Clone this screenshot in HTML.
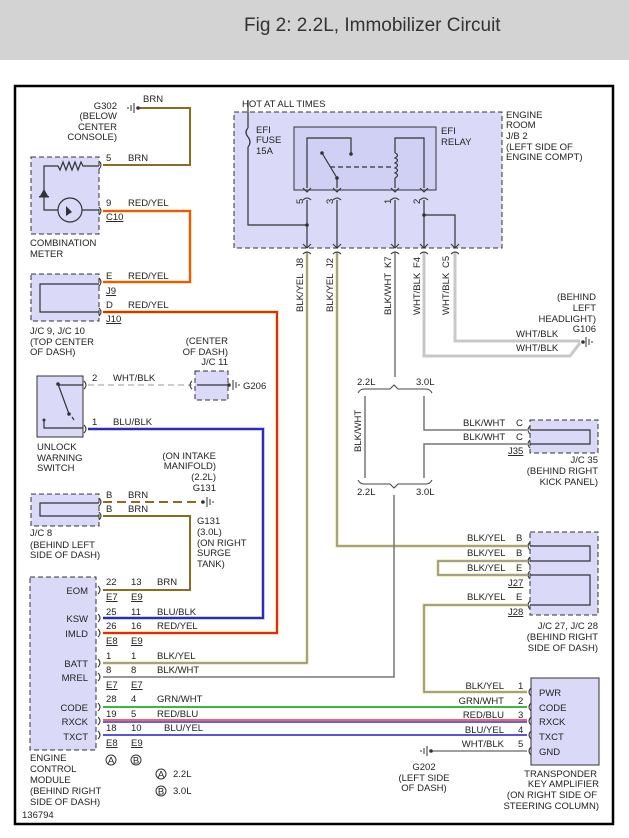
<!DOCTYPE html>
<html><head><meta charset="utf-8"><style>
html,body{margin:0;padding:0;background:#fff}
svg{display:block}
text{font-family:"Liberation Sans",sans-serif;font-size:9.5px;fill:#222}
.t{font-size:19px;fill:#333}
</style></head><body>
<svg width="629" height="838" viewBox="0 0 629 838" xmlns="http://www.w3.org/2000/svg">
<rect x="0" y="0" width="629" height="60" fill="#d3d3d3"/>
<text class="t" x="244" y="31">Fig 2: 2.2L, Immobilizer Circuit</text>
<rect x="15" y="86" width="598" height="738" fill="#fff" stroke="#000" stroke-width="2.5"/>

<!-- boxes -->
<g fill="#dadaf8" stroke="#333" stroke-dasharray="5,3">
<rect x="31" y="157" width="68" height="77"/>
<rect x="31" y="274" width="68" height="47"/>
<rect x="195" y="371" width="33" height="29"/>
<rect x="31" y="494" width="68" height="32"/>
<rect x="30" y="577" width="66" height="173"/>
<rect x="234" y="112" width="268" height="136"/>
<rect x="530" y="420" width="68" height="33"/>
<rect x="530" y="532" width="68" height="83"/>
</g>
<g fill="#dadaf8" stroke="#333">
<rect x="37" y="376" width="46" height="61"/>
<rect x="531" y="678" width="68" height="87"/>
<rect x="294" y="127" width="142" height="63" fill="#d0d0f4"/>
</g>

<!-- wires -->
<g fill="none" stroke-width="2">
<!-- BRN G302 -->
<path d="M138 108H190V165H103" stroke="#8c6d1f"/>
<!-- RED/YEL -->
<path d="M103 211H190V282H103" stroke="#f5e66a" stroke-width="3.5"/>
<path d="M103 211H190V282H103" stroke="#f05030"/>
<path d="M103 312H277V633H103" stroke="#f5e66a" stroke-width="3.5"/>
<path d="M103 312H277V633H103" stroke="#f02020"/>
<!-- WHT/BLK dashed -->
<path d="M88 385H192" stroke="#ccc" stroke-dasharray="6,4"/>
<!-- BLU/BLK -->
<path d="M88 429H263V618H103" stroke="#bbb" stroke-width="3.5"/>
<path d="M88 429H263V618H103" stroke="#2a2acc"/>
<!-- BRN J/C 8 -->
<path d="M103 502H202" stroke="#8c6d1f" stroke-dasharray="9,5"/>
<path d="M103 516H190V590H103" stroke="#8c6d1f"/>
<!-- BLK/YEL J8 -->
<path d="M307 252V663H103" stroke="#f0eaa0" stroke-width="3.5"/>
<path d="M307 252V663H103" stroke="#888" stroke-width="1.5"/>
<!-- BLK/YEL J2 -->
<path d="M337 252V546H527" stroke="#f0eaa0" stroke-width="3.5"/>
<path d="M337 252V546H527" stroke="#888" stroke-width="1.5"/>
<path d="M527 561H438V575H527" stroke="#f0eaa0" stroke-width="3.5"/>
<path d="M527 561H438V575H527" stroke="#888" stroke-width="1.5"/>
<path d="M527 605H424V692H527" stroke="#f0eaa0" stroke-width="3.5"/>
<path d="M527 605H424V692H527" stroke="#888" stroke-width="1.5"/>
<!-- BLK/WHT -->
<path d="M395 252V377M394 495V677H103" stroke="#777" stroke-width="1.5"/>
<path d="M365 396V478M424 396V430H527M527 444H424V478" stroke="#777" stroke-width="1.5"/>
<!-- WHT/BLK G106 -->
<path d="M424 252V356H570L580 343M455 252V341H580" stroke="#c8c8c8" stroke-width="3"/>
<!-- CODE/RXCK/TXCT -->
<path d="M103 707H527" stroke="#3cb83c"/>
<path d="M103 720H527" stroke="#f03030" stroke-width="1.5"/>
<path d="M103 722H527" stroke="#3030d0" stroke-width="1.5"/>
<path d="M103 735H527" stroke="#5555dd"/>
<path d="M431 751H527" stroke="#666" stroke-width="1.2"/>
</g>

<!-- braces -->
<g fill="none" stroke="#444" stroke-width="1">
<path d="M358 393Q360 389 364 389H390L394 385L398 389H426Q430 389 432 393"/>
<path d="M358 480Q360 484 364 484H390L394 488L398 484H426Q430 484 432 480"/>
</g>

<!-- JB internals -->
<g fill="none" stroke="#333" stroke-width="1.2">
<path d="M248 100V128M248 147V225H307"/>
<path d="M248 128Q244 132 248 137Q252 142 248 147"/>
<path d="M307 188V138H351V154"/>
<path d="M322 153L337 178V188"/>
<path d="M330 167H393" stroke-dasharray="5,3"/>
<path d="M395 188V178M395 153V138H424V188"/>
<path d="M395 153q5 2 0 5q5 2 0 5q5 2 0 5q5 2 0 5q5 2 0 5"/>
<path d="M307 200V248M337 200V248M395 200V248M424 200V248M424 215H455V248"/>
<!-- comb meter internals -->
<path d="M99 166H83l-2-4-3 8-3-8-3 8-3-8-3 8-3-8-3 8-2-4H44V210H58M82 210H99"/>
<circle cx="70" cy="210" r="12"/>
<!-- JC9 inner -->
<path d="M99 284H40V312H99"/>
<path d="M99 503H40V516H99"/>
<!-- switch internals -->
<path d="M83 385H58M58 384L69 414M74 420L72 417M44 420V428H83"/>
<path d="M229 385H197"/>
<path d="M530 430H590V444H530M530 546H590V561H530M530 575H590V605H530"/>
</g>
<g fill="#333">
<polygon points="44,189 40,196 48,196"/><rect x="39" y="196" width="10" height="1.5"/>
<circle cx="351" cy="154" r="1.8"/><circle cx="322" cy="153" r="1.8"/><circle cx="337" cy="178" r="1.8"/>
<circle cx="307" cy="225" r="1.8"/><circle cx="424" cy="215" r="1.8"/>
<circle cx="58" cy="384" r="1.8"/><circle cx="69" cy="414" r="1.8"/><circle cx="44" cy="420" r="1.5"/>
<circle cx="229" cy="385" r="1.8"/><circle cx="203" cy="502" r="1.8"/><circle cx="583" cy="342" r="1.8"/>
<circle cx="138" cy="108" r="1.8"/><circle cx="431" cy="751" r="1.8"/>
<polygon points="66,206 72,212 66,216"/>
</g>
<!-- ground symbols -->
<g stroke="#333" fill="none" stroke-width="1">
<path d="M134 103v10M131 105v6M128 107v2"/>
<path d="M233 380v10M236 382v6M239 384v2"/>
<path d="M207 497v10M210 499v6M213 501v2"/>
<path d="M586 337v10M589 339v6M592 341v2"/>
<path d="M427 746v10M424 748v6M421 750v2"/>
</g>
<!-- connector arcs -->
<g fill="none" stroke="#333" stroke-width="1">
<path d="M99 161q4 4 0 8M99 207q4 4 0 8M99 278q4 4 0 8M99 308q4 4 0 8M84 381q4 4 0 8M84 425q4 4 0 8M192 381q-4 4 0 8M99 498q4 4 0 8M99 512q4 4 0 8"/>
<path d="M98 586q4 4 0 8M98 614q4 4 0 8M98 629q4 4 0 8M98 659q4 4 0 8M98 673q4 4 0 8M98 703q4 4 0 8M98 717q4 4 0 8M98 731q4 4 0 8"/>
<path d="M530 426q-4 4 0 8M530 440q-4 4 0 8M530 542q-4 4 0 8M530 557q-4 4 0 8M530 571q-4 4 0 8M530 601q-4 4 0 8"/>
<path d="M531 688q-4 4 0 8M531 703q-4 4 0 8M531 717q-4 4 0 8M531 731q-4 4 0 8M531 747q-4 4 0 8"/>
<path d="M303 188l4 4 4-4M333 188l4 4 4-4M391 188l4 4 4-4M420 188l4 4 4-4M303 200q4-4 8 0M333 200q4-4 8 0M391 200q4-4 8 0M420 200q4-4 8 0"/>
<path d="M303 244l4 4 4-4M333 244l4 4 4-4M391 244l4 4 4-4M420 244l4 4 4-4M451 244l4 4 4-4M303 254q4-4 8 0M333 254q4-4 8 0M391 254q4-4 8 0M420 254q4-4 8 0M451 254q4-4 8 0"/>
</g>

<!-- text -->
<g>
<text x="143" y="102">BRN</text>
<text x="117" y="109" text-anchor="end">G302</text>
<text x="117" y="119" text-anchor="end">(BELOW</text>
<text x="117" y="130" text-anchor="end">CENTER</text>
<text x="117" y="140" text-anchor="end">CONSOLE)</text>
<text x="106" y="161">5</text><text x="128" y="161">BRN</text>
<text x="106" y="206">9</text><text x="128" y="206">RED/YEL</text>
<text x="106" y="220" text-decoration="underline">C10</text>
<text x="30" y="246">COMBINATION</text><text x="30" y="257">METER</text>
<text x="106" y="279">E</text><text x="128" y="279">RED/YEL</text>
<text x="106" y="294" text-decoration="underline">J9</text>
<text x="106" y="308">D</text><text x="128" y="308">RED/YEL</text>
<text x="106" y="322" text-decoration="underline">J10</text>
<text x="30" y="334">J/C 9, J/C 10</text><text x="30" y="345">(TOP CENTER</text><text x="30" y="355">OF DASH)</text>
<text x="228" y="344" text-anchor="end">(CENTER</text><text x="228" y="355" text-anchor="end">OF DASH)</text><text x="228" y="365" text-anchor="end">J/C 11</text>
<text x="92" y="381">2</text><text x="113" y="381">WHT/BLK</text>
<text x="243" y="389">G206</text>
<text x="92" y="425">1</text><text x="113" y="425">BLU/BLK</text>
<text x="37" y="450">UNLOCK</text><text x="37" y="461">WARNING</text><text x="37" y="471">SWITCH</text>
<text x="216" y="459" text-anchor="end">(ON INTAKE</text><text x="216" y="469" text-anchor="end">MANIFOLD)</text><text x="216" y="480" text-anchor="end">(2.2L)</text><text x="216" y="491" text-anchor="end">G131</text>
<text x="106" y="498">B</text><text x="128" y="498">BRN</text>
<text x="106" y="512">B</text><text x="128" y="512">BRN</text>
<text x="197" y="524">G131</text><text x="197" y="535">(3.0L)</text><text x="197" y="546">(ON RIGHT</text><text x="197" y="556">SURGE</text><text x="197" y="567">TANK)</text>
<text x="30" y="536">J/C 8</text><text x="30" y="548">(BEHIND LEFT</text><text x="30" y="558">SIDE OF DASH)</text>
<text x="88" y="594" text-anchor="end">EOM</text><text x="88" y="622" text-anchor="end">KSW</text><text x="88" y="637" text-anchor="end">IMLD</text>
<text x="88" y="667" text-anchor="end">BATT</text><text x="88" y="681" text-anchor="end">MREL</text>
<text x="88" y="711" text-anchor="end">CODE</text><text x="88" y="725" text-anchor="end">RXCK</text><text x="88" y="740" text-anchor="end">TXCT</text>
<text x="106" y="585">22</text><text x="131" y="585">13</text><text x="157" y="585">BRN</text>
<text x="106" y="600" text-decoration="underline">E7</text><text x="131" y="600" text-decoration="underline">E9</text>
<text x="106" y="615">25</text><text x="131" y="615">11</text><text x="157" y="615">BLU/BLK</text>
<text x="106" y="629">26</text><text x="131" y="629">16</text><text x="157" y="629">RED/YEL</text>
<text x="106" y="644" text-decoration="underline">E8</text><text x="131" y="644" text-decoration="underline">E9</text>
<text x="106" y="659">1</text><text x="131" y="659">1</text><text x="157" y="659">BLK/YEL</text>
<text x="106" y="673">8</text><text x="131" y="673">8</text><text x="157" y="673">BLK/WHT</text>
<text x="106" y="688" text-decoration="underline">E7</text><text x="131" y="688" text-decoration="underline">E7</text>
<text x="106" y="702">28</text><text x="131" y="702">4</text><text x="157" y="702">GRN/WHT</text>
<text x="106" y="717">19</text><text x="131" y="717">5</text><text x="157" y="717">RED/BLU</text>
<text x="106" y="731">18</text><text x="131" y="731">10</text><text x="164" y="731">BLU/YEL</text>
<text x="106" y="746" text-decoration="underline">E8</text><text x="131" y="746" text-decoration="underline">E9</text>
<circle cx="111" cy="760" r="5" fill="none" stroke="#333"/><text x="111" y="763.5" text-anchor="middle" font-size="8">A</text>
<circle cx="136" cy="760" r="5" fill="none" stroke="#333"/><text x="136" y="763.5" text-anchor="middle" font-size="8">B</text>
<circle cx="161" cy="774" r="5" fill="none" stroke="#333"/><text x="161" y="777.5" text-anchor="middle" font-size="8">A</text><text x="173" y="777">2.2L</text>
<circle cx="161" cy="791" r="5" fill="none" stroke="#333"/><text x="161" y="794.5" text-anchor="middle" font-size="8">B</text><text x="173" y="794">3.0L</text>
<text x="30" y="761">ENGINE</text><text x="30" y="772">CONTROL</text><text x="30" y="783">MODULE</text><text x="30" y="794">(BEHIND RIGHT</text><text x="30" y="805">SIDE OF DASH)</text>
<text x="22" y="818">136794</text>

<text x="242" y="107">HOT AT ALL TIMES</text>
<text x="256" y="133">EFI</text><text x="256" y="143">FUSE</text><text x="256" y="154">15A</text>
<text x="441" y="134">EFI</text><text x="441" y="145">RELAY</text>
<text x="506" y="118">ENGINE</text><text x="506" y="128">ROOM</text><text x="506" y="139">J/B 2</text><text x="506" y="150">(LEFT SIDE OF</text><text x="506" y="160">ENGINE COMPT)</text>
<g transform="rotate(-90)">
<text x="-204" y="303">5</text><text x="-204" y="333">3</text><text x="-204" y="391">1</text><text x="-204" y="420">2</text>
<text x="-268" y="303">J8</text><text x="-268" y="333">J2</text><text x="-268" y="391">K7</text><text x="-268" y="420">F4</text><text x="-268" y="449">C5</text>
<text x="-312" y="303">BLK/YEL</text><text x="-312" y="333">BLK/YEL</text><text x="-315" y="391">BLK/WHT</text><text x="-315" y="420">WHT/BLK</text><text x="-315" y="449">WHT/BLK</text>
<text x="-452" y="361">BLK/WHT</text>
</g>
<text x="596" y="300" text-anchor="end">(BEHIND</text><text x="596" y="311" text-anchor="end">LEFT</text><text x="596" y="322" text-anchor="end">HEADLIGHT)</text><text x="596" y="332" text-anchor="end">G106</text>
<text x="516" y="337">WHT/BLK</text><text x="516" y="351">WHT/BLK</text>
<text x="357" y="385">2.2L</text><text x="416" y="385">3.0L</text>
<text x="357" y="495">2.2L</text><text x="416" y="495">3.0L</text>
<text x="463" y="426">BLK/WHT</text><text x="516" y="426">C</text>
<text x="463" y="440">BLK/WHT</text><text x="516" y="440">C</text>
<text x="508" y="454" text-decoration="underline">J35</text>
<text x="598" y="463" text-anchor="end">J/C 35</text><text x="598" y="474" text-anchor="end">(BEHIND RIGHT</text><text x="598" y="485" text-anchor="end">KICK PANEL)</text>
<text x="467" y="541">BLK/YEL</text><text x="516" y="541">B</text>
<text x="467" y="556">BLK/YEL</text><text x="516" y="556">B</text>
<text x="467" y="571">BLK/YEL</text><text x="516" y="571">E</text>
<text x="508" y="586" text-decoration="underline">J27</text>
<text x="467" y="600">BLK/YEL</text><text x="516" y="600">E</text>
<text x="508" y="615" text-decoration="underline">J28</text>
<text x="598" y="629" text-anchor="end">J/C 27, J/C 28</text><text x="598" y="640" text-anchor="end">(BEHIND RIGHT</text><text x="598" y="651" text-anchor="end">SIDE OF DASH)</text>
<text x="504" y="689" text-anchor="end">BLK/YEL</text><text x="518" y="689">1</text>
<text x="504" y="704" text-anchor="end">GRN/WHT</text><text x="518" y="704">2</text>
<text x="504" y="718" text-anchor="end">RED/BLU</text><text x="518" y="718">3</text>
<text x="504" y="733" text-anchor="end">BLU/YEL</text><text x="518" y="733">4</text>
<text x="504" y="747" text-anchor="end">WHT/BLK</text><text x="518" y="747">5</text>
<text x="539" y="696">PWR</text><text x="539" y="711">CODE</text><text x="539" y="725">RXCK</text><text x="539" y="740">TXCT</text><text x="539" y="755">GND</text>
<text x="424" y="770" text-anchor="middle">G202</text><text x="424" y="781" text-anchor="middle">(LEFT SIDE</text><text x="424" y="791" text-anchor="middle">OF DASH)</text>
<text x="597" y="777" text-anchor="end">TRANSPONDER</text><text x="599" y="787" text-anchor="end">KEY AMPLIFIER</text><text x="597" y="798" text-anchor="end">(ON RIGHT SIDE OF</text><text x="599" y="809" text-anchor="end">STEERING COLUMN)</text>
</g>
</svg>
</body></html>
